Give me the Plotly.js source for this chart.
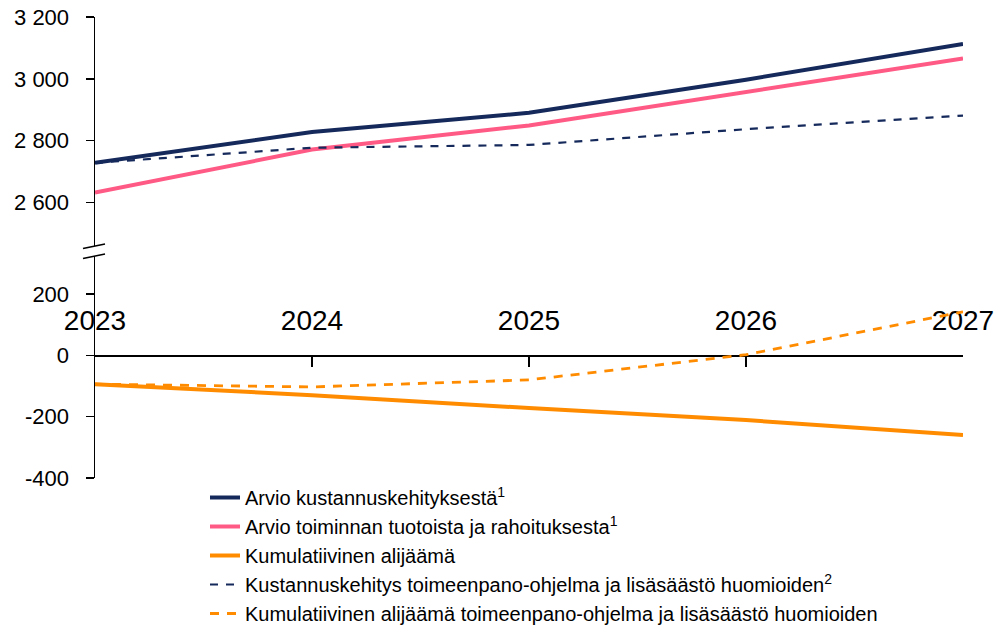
<!DOCTYPE html>
<html>
<head>
<meta charset="utf-8">
<script src="https://cdn.plot.ly/plotly-3.0.1.min.js"></script>
<style>html,body{margin:0;padding:0;background:#fff}#chart{width:996px;height:625px}</style>
</head>
<body>
<div id="chart"></div>
<script>
const years = [2023, 2024, 2025, 2026, 2027];
const kustannus = [2728, 2828, 2890, 2997, 3113];
const tuotot = [2632, 2771, 2849, 2956, 3066];
const kustannusOhjelma = [2728, 2777, 2786, 2837, 2881];
const alijaama = [-94, -130, -172, -211, -260];
const alijaamaOhjelma = [-94, -103, -80, 2, 142];

const names = [
  'Arvio kustannuskehityksestä<sup>1</sup>',
  'Arvio toiminnan tuotoista ja rahoituksesta<sup>1</sup>',
  'Kumulatiivinen alijäämä',
  'Kustannuskehitys toimeenpano-ohjelma ja lisäsäästö huomioiden<sup>2</sup>',
  'Kumulatiivinen alijäämä toimeenpano-ohjelma ja lisäsäästö huomioiden'
];
const xTickVals = [2023, 2024, 2025, 2026, 2027];
const xTickText = ['2023', '2024', '2025', '2026', '2027'];
const yTopVals = [2600, 2800, 3000, 3200];
const yTopText = ['2 600', '2 800', '3 000', '3 200'];
const yBotVals = [-400, -200, 0, 200];
const yBotText = ['-400', '-200', '0', '200'];

const NAVY = '#15295b', PINK = '#ff5a85', ORANGE = '#ff8c00';

const traces = [
  {x: years, y: kustannus, name: names[0], mode: 'lines', line: {color: NAVY, width: 4}, xaxis: 'x', yaxis: 'y', legendgroup: 'a'},
  {x: years, y: tuotot, name: names[1], mode: 'lines', line: {color: PINK, width: 4}, xaxis: 'x', yaxis: 'y', legendgroup: 'b'},
  {x: years, y: alijaama, name: names[2], mode: 'lines', line: {color: ORANGE, width: 4}, xaxis: 'x', yaxis: 'y2', legendgroup: 'c'},
  {x: years, y: kustannusOhjelma, name: names[3], mode: 'lines', line: {color: NAVY, width: 2.2, dash: '8px,8px'}, xaxis: 'x', yaxis: 'y', legendgroup: 'd'},
  {x: years, y: alijaamaOhjelma, name: names[4], mode: 'lines', line: {color: ORANGE, width: 2.8, dash: '9px,8px'}, xaxis: 'x', yaxis: 'y2', legendgroup: 'e'}
];

const H = 625, T = 17, B = 147, L = 95, R = 33;
const plotH = H - T - B, plotW = 996 - L - R;
const py = p => (H - B - p) / plotH;
const px = p => (p - L) / plotW;
const zeroPx = 355.3;

const font = {family: 'Arial, "Liberation Sans", sans-serif', color: '#000'};

const layout = {
  width: 996, height: 625,
  margin: {l: L, r: R, t: T, b: B, autoexpand: false},
  paper_bgcolor: '#fff', plot_bgcolor: 'rgba(0,0,0,0)',
  font: font,
  showlegend: true,
  hovermode: false,
  xaxis: {
    range: [2023, 2027], anchor: 'free', position: py(zeroPx), side: 'top',
    tickvals: xTickVals, ticktext: xTickText,
    showline: true, linecolor: '#000', linewidth: 1.5,
    ticks: 'inside', ticklen: 10, tickwidth: 1.5, tickcolor: '#000',
    ticklabelstandoff: 14,
    showgrid: false, zeroline: false,
    tickfont: {family: font.family, size: 28, color: '#000'}
  },
  yaxis: {
    domain: [py(246), 1], range: [2459, 3200], anchor: 'x',
    tickvals: yTopVals, ticktext: yTopText,
    showline: true, linecolor: '#000', linewidth: 1.5,
    ticks: 'outside', ticklen: 8, tickwidth: 1.5, tickcolor: '#000',
    ticklabelstandoff: 12,
    showgrid: false, zeroline: false,
    tickfont: {family: font.family, size: 22, color: '#000'}
  },
  yaxis2: {
    domain: [0, py(256)], range: [-400, 324], anchor: 'x',
    tickvals: yBotVals, ticktext: yBotText,
    showline: true, linecolor: '#000', linewidth: 1.5,
    ticks: 'outside', ticklen: 8, tickwidth: 1.5, tickcolor: '#000',
    ticklabelstandoff: 12,
    showgrid: false, zeroline: false,
    tickfont: {family: font.family, size: 22, color: '#000'}
  },
  legend: {
    x: px(205), xanchor: 'left', y: py(478), yanchor: 'top',
    font: {family: font.family, size: 20, color: '#000'},
    tracegroupgap: 0, bgcolor: 'rgba(0,0,0,0)'
  },
  shapes: [
    {type: 'line', xref: 'paper', yref: 'paper', x0: px(83), y0: py(248.5), x1: px(105), y1: py(244), line: {color: '#000', width: 1.5}},
    {type: 'line', xref: 'paper', yref: 'paper', x0: px(83), y0: py(258.5), x1: px(105), y1: py(254), line: {color: '#000', width: 1.5}}
  ]
};

Plotly.newPlot('chart', traces, layout, {displayModeBar: false, staticPlot: true});
</script>
</body>
</html>
